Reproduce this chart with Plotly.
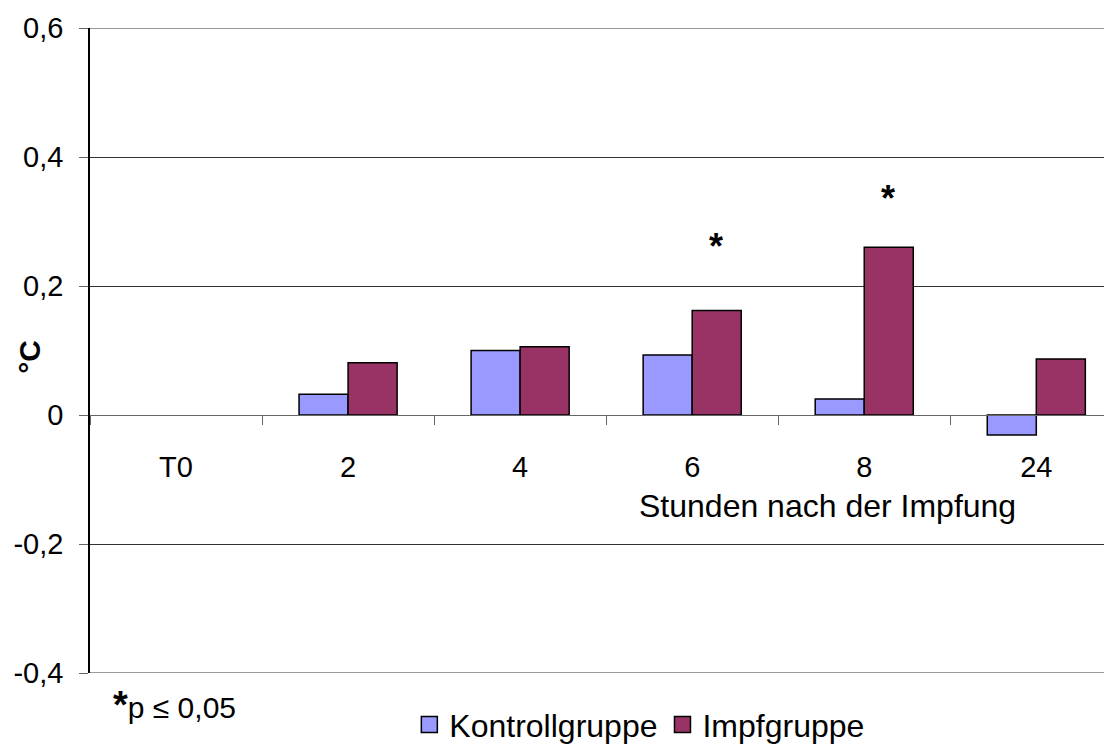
import plotly.graph_objects as go

zeitpunkte = ["T0", "2", "4", "6", "8", "24"]
kontrolle = [None, 0.032, 0.100, 0.093, 0.025, -0.031]
impfung = [None, 0.081, 0.106, 0.162, 0.260, 0.087]
signifikant = ["6", "8"]

y_ticks = [-0.4, -0.2, 0, 0.2, 0.4, 0.6]
y_labels = ["-0,4", "-0,2", "0", "0,2", "0,4", "0,6"]

schrift = "Liberation Sans, Arial, sans-serif"
farbe_k = "#9999FF"
farbe_i = "#993366"

fig = go.Figure()
fig.add_trace(go.Bar(
    x=zeitpunkte, y=kontrolle, name="Kontrollgruppe", showlegend=False,
    marker=dict(color=farbe_k, line=dict(color="black", width=1.5)),
))
fig.add_trace(go.Bar(
    x=zeitpunkte, y=impfung, name="Impfgruppe", showlegend=False,
    marker=dict(color=farbe_i, line=dict(color="black", width=1.5)),
))
# Legendeneintraege mit groesseren Quadraten
for name, farbe in [("Kontrollgruppe", farbe_k), ("Impfgruppe", farbe_i)]:
    fig.add_trace(go.Scatter(
        x=[None], y=[None], mode="markers", name=name,
        marker=dict(symbol="square", size=16, color=farbe,
                    line=dict(color="black", width=1.5)),
    ))

# obere und untere Rasterlinie (werden von plotly am Rand weggelassen)
for yy in (y_ticks[0], y_ticks[-1]):
    fig.add_shape(type="line", xref="paper", x0=0, x1=1, y0=yy, y1=yy,
                  line=dict(color="#333333", width=1), layer="below")

# Signifikanz-Sterne ueber den Impfgruppen-Balken
for kat, yy in zip(signifikant, [0.262, 0.336]):
    fig.add_annotation(x=zeitpunkte.index(kat), y=yy, text="<b>*</b>",
                       showarrow=False, xshift=24, xanchor="center", yanchor="middle",
                       font=dict(size=36, color="black", family=schrift))

fig.add_annotation(x=0.722, y=0.259, xref="paper", yref="paper",
                   xanchor="center", yanchor="middle",
                   text="Stunden nach der Impfung", showarrow=False,
                   font=dict(size=32, color="black", family=schrift))
fig.add_annotation(x=-0.059, y=0.49, xref="paper", yref="paper",
                   xanchor="center", yanchor="middle",
                   text="<b>°C</b>", textangle=-90, showarrow=False,
                   font=dict(size=30, color="black", family=schrift))
fig.add_annotation(x=0.083, y=-0.049, xref="paper", yref="paper",
                   xanchor="center", yanchor="middle",
                   text="<b><span style='font-size:38px'>*</span></b>p ≤ 0,05",
                   showarrow=False,
                   font=dict(size=30, color="black", family=schrift))

# die Seite hat 8 px Rand, daher Figur etwas kleiner und Raender um 8 px reduziert
fig.update_layout(
    width=1104, height=737,
    margin=dict(l=82, r=0, t=20, b=72, autoexpand=False),
    paper_bgcolor="white", plot_bgcolor="white",
    barmode="group", bargap=0.43, bargroupgap=0,
    font=dict(family=schrift, size=29, color="black"),
    legend=dict(orientation="h", x=0.538, xanchor="center", y=-0.08,
                yanchor="middle", font=dict(size=32), itemwidth=30,
                traceorder="normal"),
    xaxis=dict(
        type="category", range=[-0.5, 5.44], automargin=False,
        anchor="free", position=0.4,
        showline=True, linecolor="#666666", linewidth=1,
        ticks="outside", tickson="boundaries", ticklen=9, tickcolor="#666666",
        ticklabelstandoff=26, showgrid=False,
    ),
    yaxis=dict(
        range=[-0.4, 0.6], tickvals=y_ticks, ticktext=y_labels, automargin=False,
        showline=True, linecolor="black", linewidth=1.5,
        showgrid=True, gridcolor="#333333", gridwidth=1,
        zeroline=False,
        ticks="outside", ticklen=9, tickcolor="#666666",
        ticklabelstandoff=10,
    ),
)

fig.write_html("out.html")
